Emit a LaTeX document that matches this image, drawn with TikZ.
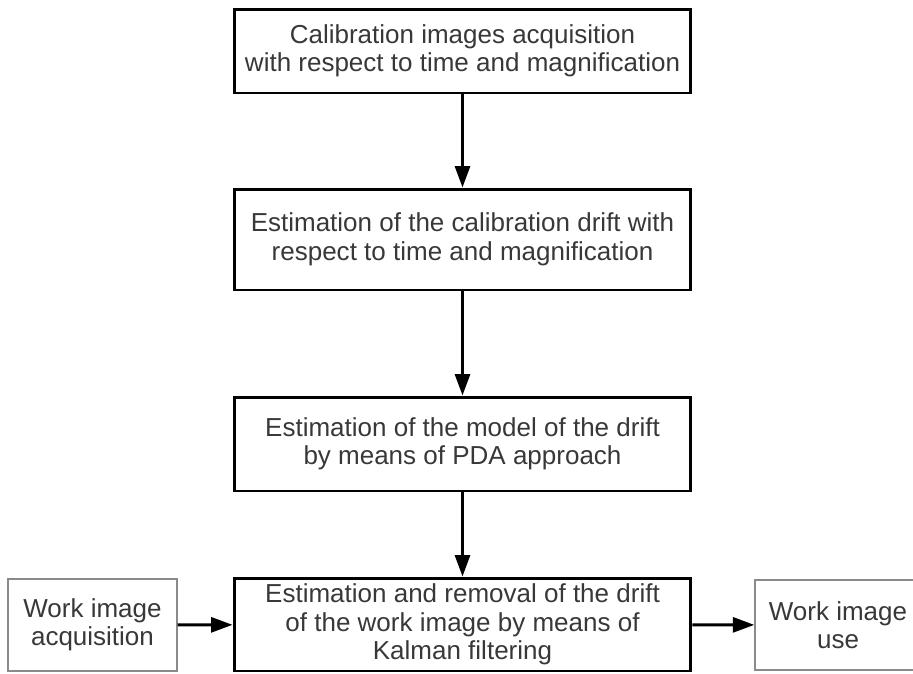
\documentclass[tikz,border=0pt]{standalone}
\usepackage{fontspec}
\setmainfont{Liberation Sans}
\usetikzlibrary{arrows.meta}
\definecolor{txtgray}{HTML}{383838}
\definecolor{edgegray}{HTML}{8A8A8A}
\tikzset{
  stepbox/.style={draw=black, line width=1.7pt, minimum width=9.14cm, align=center,
    text=txtgray, inner sep=0pt, font=\fontsize{14.8}{16.2}\selectfont},
  sidebox/.style={draw=edgegray, line width=0.8pt, align=center,
    text=txtgray, inner sep=0pt, font=\fontsize{14.8}{16.2}\selectfont},
  flow/.style={line width=1.7pt, -{Triangle[length=0.43cm, width=0.3cm]}}
}
\begin{document}
\begin{tikzpicture}[x=0.02cm, y=-0.02cm]
  \useasboundingbox (0, 0) rectangle (913, 673);
  \clip (0, 0) rectangle (913, 673);
  \node[stepbox, minimum height=1.68cm] (calib) at (462.5, 51) {Calibration images acquisition\\with respect to time and magnification};
  \node[stepbox, minimum height=2.02cm] (drift) at (462.5, 239.5) {Estimation of the calibration drift with\\respect to time and magnification};
  \node[stepbox, minimum height=1.88cm] (model) at (462.5, 444) {Estimation of the model of the drift\\by means of PDA approach};
  \node[stepbox, minimum height=1.86cm] (removal) at (462.5, 624.5) {Estimation and removal of the drift\\of the work image by means of\\Kalman filtering};
  \node[sidebox, minimum width=3.38cm, minimum height=1.84cm] (workin) at (92.5, 625) {Work image\\acquisition};
  \node[sidebox, minimum width=3.32cm, minimum height=1.80cm] (workout) at (838, 625) {Work image\\use};
  \draw[flow] (calib) -- (drift);
  \draw[flow] (drift) -- (model);
  \draw[flow] (model) -- (removal);
  \draw[flow] (workin) -- (removal);
  \draw[flow] (removal) -- (workout);
\end{tikzpicture}
\end{document}
